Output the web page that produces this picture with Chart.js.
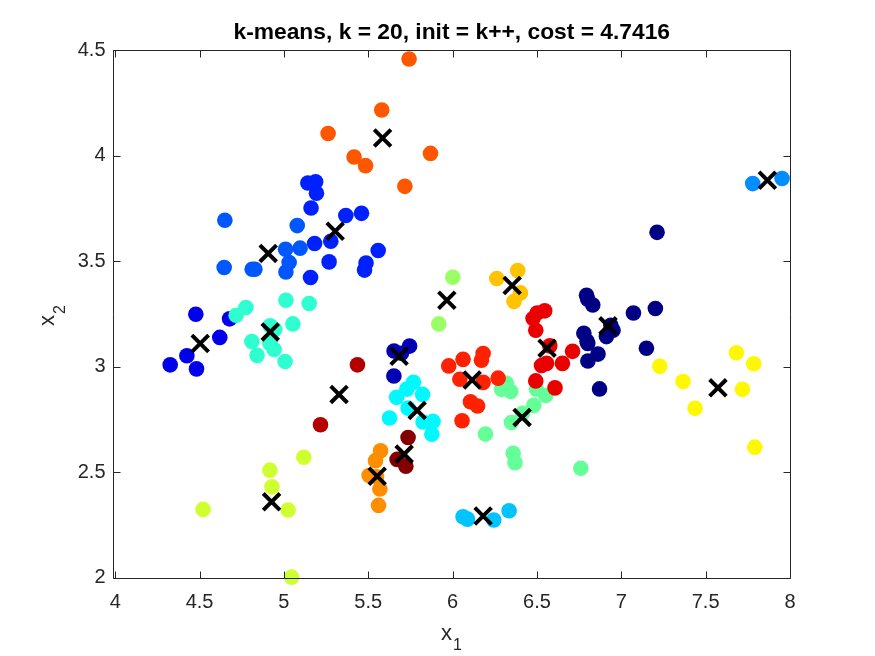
<!DOCTYPE html>
<html>
<head>
<meta charset="utf-8">
<title>k-means</title>
<script src="https://cdn.jsdelivr.net/npm/chart.js@4"></script>
<style>
    html, body { margin: 0; padding: 0; background: #fff; }
    canvas { display: block; }
</style>
</head>
<body>
<canvas id="kmeansChart" width="875" height="656"></canvas>
<script>
// ==================== Data ====================
const titleText = 'k-means, k = 20, init = k++, cost = 4.7416';
const xTicks = [4, 4.5, 5, 5.5, 6, 6.5, 7, 7.5, 8];
const yTicks = [2, 2.5, 3, 3.5, 4, 4.5];

// one row per cluster
const clusterX = [
    [7.212, 6.794, 6.801, 6.831, 7.072, 7.202, 7.149, 6.778, 6.797, 6.801, 6.862, 6.802, 6.871, 6.938, 6.951, 6.912],
    [5.653, 5.745, 5.652, 5.697],
    [4.478, 4.678, 4.620, 4.425, 4.326, 4.482],
    [5.142, 5.188, 5.193, 5.161, 5.367, 5.460, 5.182, 5.278, 5.559, 5.268, 5.487, 5.478, 5.158],
    [4.650, 5.079, 5.010, 5.096, 5.031, 5.012, 4.646, 4.812, 4.828],
    [7.779, 7.953],
    [6.062, 6.088, 6.244, 6.335],
    [5.768, 5.729, 5.668, 5.822, 5.736, 5.626, 5.825, 5.884, 5.877],
    [5.012, 5.150, 4.775, 4.717, 5.053, 4.919, 4.946, 4.810, 4.917, 4.942, 4.841, 5.007],
    [6.319, 6.290, 6.345, 6.497, 6.552, 6.481, 6.414, 6.349, 6.195, 6.359, 6.370, 6.760],
    [6.001, 5.918],
    [5.118, 4.521, 4.917, 4.929, 5.025, 5.046],
    [7.228, 7.366, 7.437, 7.682, 7.785, 7.718, 7.791],
    [6.386, 6.262, 6.402, 6.364],
    [5.573, 5.543, 5.505, 5.549, 5.569, 5.561],
    [5.742, 5.580, 5.262, 5.416, 5.484, 5.869, 5.717],
    [6.181, 6.171, 6.062, 5.977, 6.043, 6.181, 6.270, 6.106, 6.148, 6.056],
    [6.546, 6.501, 6.477, 6.493, 6.576, 6.711, 6.651, 6.557, 6.527, 6.493, 6.607],
    [5.436, 5.217],
    [5.736, 5.671, 5.723]
];
const clusterY = [
    [3.636, 3.338, 3.319, 3.292, 3.254, 3.275, 3.087, 3.158, 3.120, 3.109, 3.059, 3.026, 2.894, 3.196, 3.172, 3.142],
    [3.074, 3.097, 2.955, 3.063],
    [3.248, 3.226, 3.138, 3.051, 3.008, 2.989],
    [3.870, 3.876, 3.821, 3.751, 3.716, 3.726, 3.583, 3.594, 3.550, 3.496, 3.491, 3.457, 3.422],
    [3.693, 3.668, 3.556, 3.561, 3.493, 3.448, 3.469, 3.461, 3.461],
    [3.867, 3.891],
    [2.288, 2.277, 2.273, 2.317],
    [2.925, 2.893, 2.854, 2.868, 2.803, 2.756, 2.737, 2.740, 2.679],
    [3.314, 3.299, 3.280, 3.243, 3.202, 3.193, 3.176, 3.119, 3.109, 3.081, 3.053, 3.024],
    [2.921, 2.892, 2.882, 2.892, 2.863, 2.816, 2.778, 2.735, 2.680, 2.589, 2.544, 2.518],
    [3.423, 3.202],
    [2.570, 2.323, 2.509, 2.430, 2.320, 2.002],
    [3.001, 2.929, 2.802, 3.065, 3.013, 2.892, 2.618],
    [3.455, 3.417, 3.349, 3.308],
    [2.601, 2.554, 2.484, 2.478, 2.420, 2.342],
    [4.457, 4.216, 4.104, 3.993, 3.952, 4.010, 3.854],
    [3.062, 3.030, 3.034, 3.003, 2.940, 2.925, 2.945, 2.833, 2.813, 2.743],
    [3.264, 3.254, 3.228, 3.172, 3.098, 3.072, 3.015, 3.015, 3.005, 2.932, 2.899],
    [3.008, 2.724],
    [2.664, 2.560, 2.528]
];
const centroidX = [6.921, 5.683, 4.504, 5.304, 4.907, 7.866, 6.181, 5.790, 4.919, 6.412, 5.966, 4.927, 7.573, 6.353, 5.553, 5.585, 6.116, 6.560, 5.327, 5.713];
const centroidY = [3.193, 3.049, 3.109, 3.641, 3.536, 3.883, 2.292, 2.792, 3.164, 2.759, 3.314, 2.359, 2.899, 3.384, 2.480, 4.083, 2.936, 3.087, 2.868, 2.585];

// jet colormap, one colour per cluster
const clusterColors = [
    '#000084', '#0000b5', '#0000eb', '#0021ff', '#0057ff',
    '#008dff', '#00c3ff', '#00f8ff', '#2fffd0', '#65ff9a',
    '#9aff65', '#d0ff2f', '#fff800', '#ffc300', '#ff8d00',
    '#ff5700', '#ff2100', '#eb0000', '#b50000', '#840000'
];

const axisColor = '#262626';
const tickFont = { family: '"Liberation Sans", Arial, sans-serif', size: 20 };

// ==================== Axes box, inward ticks, x1 / x2 labels ====================
const matlabAxes = {
    id: 'matlabAxes',
    afterDraw(chart) {
        const ctx = chart.ctx;
        const area = chart.chartArea;
        const left = Math.floor(area.left) + 0.5;
        const right = Math.floor(area.right) + 0.5;
        const top = Math.floor(area.top) + 0.5;
        const bottom = Math.floor(area.bottom) + 0.5;
        const tickLen = 7;

        ctx.save();
        ctx.strokeStyle = axisColor;
        ctx.lineWidth = 1;
        ctx.beginPath();
        ctx.rect(left, top, right - left, bottom - top);
        xTicks.forEach(v => {
            const px = Math.round(chart.scales.x.getPixelForValue(v)) + 0.5;
            ctx.moveTo(px, bottom); ctx.lineTo(px, bottom - tickLen);
            ctx.moveTo(px, top); ctx.lineTo(px, top + tickLen);
        });
        yTicks.forEach(v => {
            const py = Math.round(chart.scales.y.getPixelForValue(v)) + 0.5;
            ctx.moveTo(left, py); ctx.lineTo(left + tickLen, py);
            ctx.moveTo(right, py); ctx.lineTo(right - tickLen, py);
        });
        ctx.stroke();

        ctx.fillStyle = axisColor;
        ctx.textAlign = 'left';
        ctx.textBaseline = 'alphabetic';
        ctx.font = '22px "Liberation Sans", Arial, sans-serif';
        ctx.fillText('x', 441, 640);
        ctx.font = '16px "Liberation Sans", Arial, sans-serif';
        ctx.fillText('1', 453, 650);

        ctx.translate(54, 326);
        ctx.rotate(-Math.PI / 2);
        ctx.font = '22px "Liberation Sans", Arial, sans-serif';
        ctx.fillText('x', 0, 0);
        ctx.font = '16px "Liberation Sans", Arial, sans-serif';
        ctx.fillText('2', 12, 11);
        ctx.restore();
    }
};

// ==================== Chart ====================
function buildDatasets() {
    const datasets = clusterX.map((xs, i) => ({
        label: 'Cluster ' + (i + 1),
        data: xs.map((x, j) => ({ x: x, y: clusterY[i][j] })),
        backgroundColor: clusterColors[i],
        borderWidth: 0,
        pointRadius: 7.8,
        clip: false,
        order: clusterX.length - i
    }));
    datasets.push({
        label: 'Centroids',
        data: centroidX.map((x, i) => ({ x: x, y: centroidY[i] })),
        pointStyle: 'crossRot',
        pointRadius: 11.8,
        borderColor: '#000',
        backgroundColor: '#000',
        borderWidth: 4,
        clip: false,
        order: 0
    });
    return datasets;
}

new Chart(document.getElementById('kmeansChart').getContext('2d'), {
    type: 'scatter',
    data: { datasets: buildDatasets() },
    plugins: [matlabAxes],
    options: {
        responsive: false,
        animation: false,
        events: [],
        layout: { padding: { left: 0, right: 85, top: 0, bottom: 0 } },
        plugins: {
            legend: { display: false },
            tooltip: { enabled: false },
            title: {
                display: true,
                text: titleText,
                fullSize: false,
                color: '#000',
                font: { family: '"Liberation Sans", Arial, sans-serif', size: 22.8, weight: 'bold' },
                padding: { top: 19, bottom: 3.64 }
            }
        },
        scales: {
            x: {
                type: 'linear',
                min: 3.99,
                max: 8,
                afterBuildTicks(scale) { scale.ticks = xTicks.map(v => ({ value: v })); },
                afterFit(scale) { scale.height = 78; },
                grid: { display: false, drawTicks: false },
                border: { display: false },
                ticks: {
                    color: axisColor,
                    font: tickFont,
                    padding: 12,
                    maxRotation: 0,
                    autoSkip: false,
                    callback: v => String(v)
                }
            },
            y: {
                type: 'linear',
                min: 1.998,
                max: 4.5,
                afterBuildTicks(scale) { scale.ticks = yTicks.map(v => ({ value: v })); },
                afterFit(scale) { scale.width = 113.5; },
                grid: { display: false, drawTicks: false },
                border: { display: false },
                ticks: {
                    color: axisColor,
                    font: tickFont,
                    padding: 8,
                    autoSkip: false,
                    callback: v => String(v)
                }
            }
        }
    }
});
</script>
</body>
</html>
